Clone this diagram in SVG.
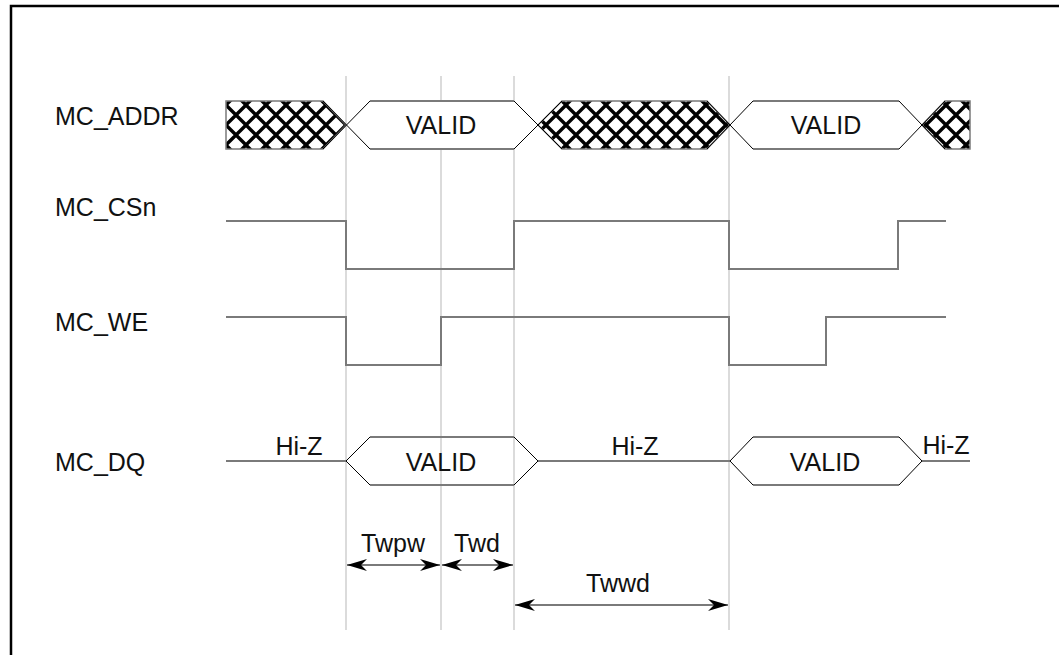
<svg xmlns="http://www.w3.org/2000/svg" width="1059" height="655" viewBox="0 0 1059 655">
<defs>
<pattern id="hatch" patternUnits="userSpaceOnUse" x="226" y="105" width="20" height="20">
<rect width="20" height="20" fill="#fff"/>
<path d="M0,0 L20,20 M20,0 L0,20 M-2,18 L2,22 M18,-2 L22,2 M-2,2 L2,-2 M18,22 L22,18" stroke="#000" stroke-width="3.4" fill="none"/>
</pattern>
<marker id="arr" markerUnits="userSpaceOnUse" markerWidth="22" markerHeight="14" refX="20" refY="7" orient="auto-start-reverse" viewBox="0 0 22 14">
<path d="M0,1 L20,7 L0,13 L6,7 z" fill="#000"/>
</marker>
<style>
text{font-family:"Liberation Sans",Arial,sans-serif;font-size:25px;fill:#111}
.mid{text-anchor:middle}
.sig{fill:none;stroke:#7a7a7a;stroke-width:2}
.edge{fill:none;stroke:#000;stroke-width:1}
.guide{stroke:#cfcfcf;stroke-width:1.5}
.hat{fill:url(#hatch);stroke:#7a7a7a;stroke-width:1.5}
.bus{fill:#fff;stroke:none}
.dim{stroke:#7a7a7a;stroke-width:2;marker-start:url(#arr);marker-end:url(#arr)}
</style>
</defs>
<rect width="1059" height="655" fill="#fff"/>
<path d="M11,655 L11,6 L1059,6" fill="none" stroke="#000" stroke-width="2.5"/>
<g id="guides">
<line class="guide" x1="346" y1="76" x2="346" y2="630"/>
<line class="guide" x1="441" y1="76" x2="441" y2="630"/>
<line class="guide" x1="514" y1="76" x2="514" y2="630"/>
<line class="guide" x1="729" y1="76" x2="729" y2="630"/>
</g>
<g id="mc_addr">
<text x="55" y="125">MC_ADDR</text>
<polygon class="hat" points="226,101 323,101 346,125 323,149 226,149"/>
<polygon class="hat" points="538,125 562,101 707,101 730,125 707,149 562,149"/>
<polygon class="hat" points="922,125 945,101 970,101 970,149 945,149"/>
<polygon class="bus" points="346,125 370,101 514,101 538,125 514,149 370,149"/>
<polygon class="bus" points="730,125 753,101 899,101 922,125 899,149 753,149"/>
<path class="sig" d="M370,101 H514 M370,149 H514 M753,101 H899 M753,149 H899"/>
<path class="edge" d="M323,101 L370,149 M323,149 L370,101 M514,101 L562,149 M514,149 L562,101 M707,101 L753,149 M707,149 L753,101 M899,101 L945,149 M899,149 L945,101"/>
<text class="mid" x="441" y="134">VALID</text>
<text class="mid" x="826" y="134">VALID</text>
</g>
<g id="mc_csn">
<text x="55" y="216">MC_CSn</text>
<path class="sig" d="M226,221 H346 V269 H514 V221 H729 V269 H898 V221 H946"/>
</g>
<g id="mc_we">
<text x="55" y="331">MC_WE</text>
<path class="sig" d="M226,317 H346 V365 H441 V317 H729 V365 H826 V317 H946"/>
</g>
<g id="mc_dq">
<text x="55" y="471">MC_DQ</text>
<path class="sig" d="M226,461 H346 M538,461 H730 M922,461 H970 M370,437 H514 M370,485 H514 M753,437 H899 M753,485 H899"/>
<path class="edge" d="M370,437 L346,461 L370,485 M514,437 L538,461 L514,485 M753,437 L730,461 L753,485 M899,437 L922,461 L899,485"/>
<text class="mid" x="299" y="455">Hi-Z</text>
<text class="mid" x="441" y="471">VALID</text>
<text class="mid" x="635" y="455">Hi-Z</text>
<text class="mid" x="825" y="471">VALID</text>
<text class="mid" x="946" y="454">Hi-Z</text>
</g>
<g id="connectors">
<line class="dim" x1="347" y1="565" x2="440" y2="565"/>
<line class="dim" x1="442" y1="565" x2="513" y2="565"/>
<line class="dim" x1="515" y1="605" x2="728" y2="605"/>
</g>
<g id="labels">
<text class="mid" x="393" y="552">Twpw</text>
<text class="mid" x="477" y="552">Twd</text>
<text class="mid" x="618" y="592">Twwd</text>
</g>
</svg>
